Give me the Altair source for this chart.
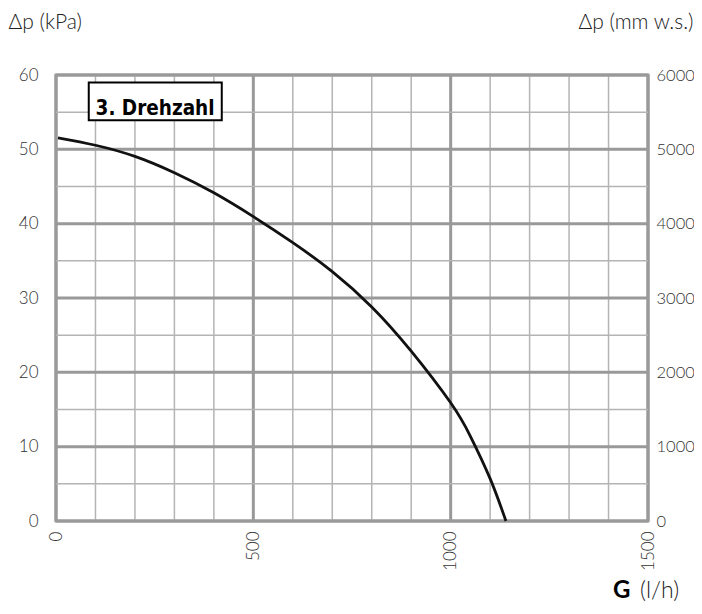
import altair as alt
import pandas as pd

# Curve: flow G (l/h) vs pressure drop Δp (kPa)
G = [5, 100, 200, 300, 400, 500, 600, 700, 800, 900, 1000, 1050, 1100, 1140]
P = [51.55, 50.55, 49.05, 46.85, 44.15, 40.95, 37.45, 33.55, 28.8, 22.85, 15.9, 11.4, 5.7, 0.0]

x_grid = list(range(0, 1501, 100))
y_grid = list(range(0, 61, 5))
x_labels = [0, 500, 1000, 1500]
y_labels = [0, 10, 20, 30, 40, 50, 60]
y2_labels = [0, 1000, 2000, 3000, 4000, 5000, 6000]

box_label = "3. Drehzahl"
box_G = [83, 420]
box_p = [53.9, 59.0]
label_G = 251
label_p = 55.4

FONT = "Lato"
curve = pd.DataFrame({"G": G, "p": P})
curve["mm"] = curve["p"] * 100

xs = alt.Scale(domain=[0, 1500], nice=False, zero=True)
ys = alt.Scale(domain=[0, 60], nice=False)
ys2 = alt.Scale(domain=[0, 6000], nice=False)

x_axis = alt.Axis(values=x_labels, format="d", ticks=False, domain=False, grid=False,
                  labelAngle=270, labelPadding=10, labelOverlap=False, labelFlush=False,
                  labelFont=FONT, labelFontSize=17, labelColor="#333333",
                  labelFontWeight=300, title=None)
y_axis = alt.Axis(values=y_labels, format="d", ticks=False, domain=False, grid=False,
                  labelPadding=18, labelOverlap=False, labelFlush=False,
                  labelFont=FONT, labelFontSize=17, labelColor="#333333", labelFontWeight=300,
                  title="Δp (kPa)", titleAngle=0, titleAlign="left", titleBaseline="alphabetic",
                  titleX=-48, titleY=-47, titleFont=FONT, titleFontSize=21,
                  titleFontWeight=300, titleColor="#222222")
y2_axis = alt.Axis(values=y2_labels, format="d", orient="right",
                   ticks=False, domain=False, grid=False, labelPadding=8, labelOverlap=False,
                   labelFlush=False, labelFont=FONT, labelFontSize=16.5, labelColor="#333333",
                   labelFontWeight=300,
                   title="Δp (mm w.s.)", titleAngle=0, titleAlign="right",
                   titleBaseline="alphabetic", titleX=45, titleY=-47, titleFont=FONT,
                   titleFontSize=21, titleFontWeight=300, titleColor="#222222")

xg = pd.DataFrame({"G": x_grid})
xg["w"] = [3 if v % 500 == 0 else 1.5 for v in x_grid]
xg["c"] = ["#999999" if v % 500 == 0 else "#b4b4b4" for v in x_grid]
yg = pd.DataFrame({"p": y_grid})
yg["w"] = [3 if v % 10 == 0 else 1.5 for v in y_grid]
yg["c"] = ["#999999" if v % 10 == 0 else "#b4b4b4" for v in y_grid]

vgrid = alt.Chart(xg).mark_rule().encode(
    x=alt.X("G:Q", scale=xs, axis=x_axis),
    strokeWidth=alt.StrokeWidth("w:Q", scale=None),
    color=alt.Color("c:N", scale=None),
)
hgrid = alt.Chart(yg).mark_rule().encode(
    y=alt.Y("p:Q", scale=ys, axis=None),
    strokeWidth=alt.StrokeWidth("w:Q", scale=None),
    color=alt.Color("c:N", scale=None),
)

line = alt.Chart(curve).mark_line(color="#111111", strokeWidth=2.8, interpolate="natural").encode(
    x=alt.X("G:Q", scale=xs, axis=x_axis),
    y=alt.Y("p:Q", scale=ys, axis=y_axis),
)

right = alt.Chart(curve).mark_line(opacity=0).encode(
    x=alt.X("G:Q", scale=xs, axis=x_axis),
    y=alt.Y("mm:Q", scale=ys2, axis=y2_axis),
)

box_df = pd.DataFrame({"g1": [box_G[0]], "g2": [box_G[1]], "p1": [box_p[0]], "p2": [box_p[1]]})
box = alt.Chart(box_df).mark_rect(fill="white", stroke="black", strokeWidth=2).encode(
    x=alt.X("g1:Q", scale=xs, axis=x_axis), x2="g2:Q",
    y=alt.Y("p1:Q", scale=ys, axis=None), y2="p2:Q",
)
lab_df = pd.DataFrame({"G": [label_G], "p": [label_p], "t": [box_label]})
lab = alt.Chart(lab_df).mark_text(font="DejaVu Sans Condensed", fontWeight="bold", fontSize=20.5,
                                  color="black", align="center", baseline="middle").encode(
    x=alt.X("G:Q", scale=xs, axis=x_axis), y=alt.Y("p:Q", scale=ys, axis=None), text="t:N"
)

title_df = pd.DataFrame({"a": ["G"], "b": ["(l/h)"]})
gtitle = alt.Chart(title_df).mark_text(font=FONT, fontWeight="bold", fontSize=24, color="black",
                                      align="left", baseline="alphabetic").encode(
    x=alt.value(557), y=alt.value(523), text="a:N")
unit = alt.Chart(title_df).mark_text(font=FONT, fontWeight=300, fontSize=23, color="#222222",
                                    align="left", baseline="alphabetic").encode(
    x=alt.value(584), y=alt.value(523), text="b:N")

chart = alt.layer(vgrid, hgrid, line, right, box, lab, gtitle, unit).resolve_scale(
    y="independent"
).properties(
    width=592, height=446,
    autosize=alt.AutoSizeParams(type="none"),
    padding={"left": 48, "top": 67, "right": 46, "bottom": 85},
    background="white",
).configure_view(stroke="#999999", strokeWidth=3)

chart.save("out.html", embed_options={"renderer": "svg", "actions": False})
